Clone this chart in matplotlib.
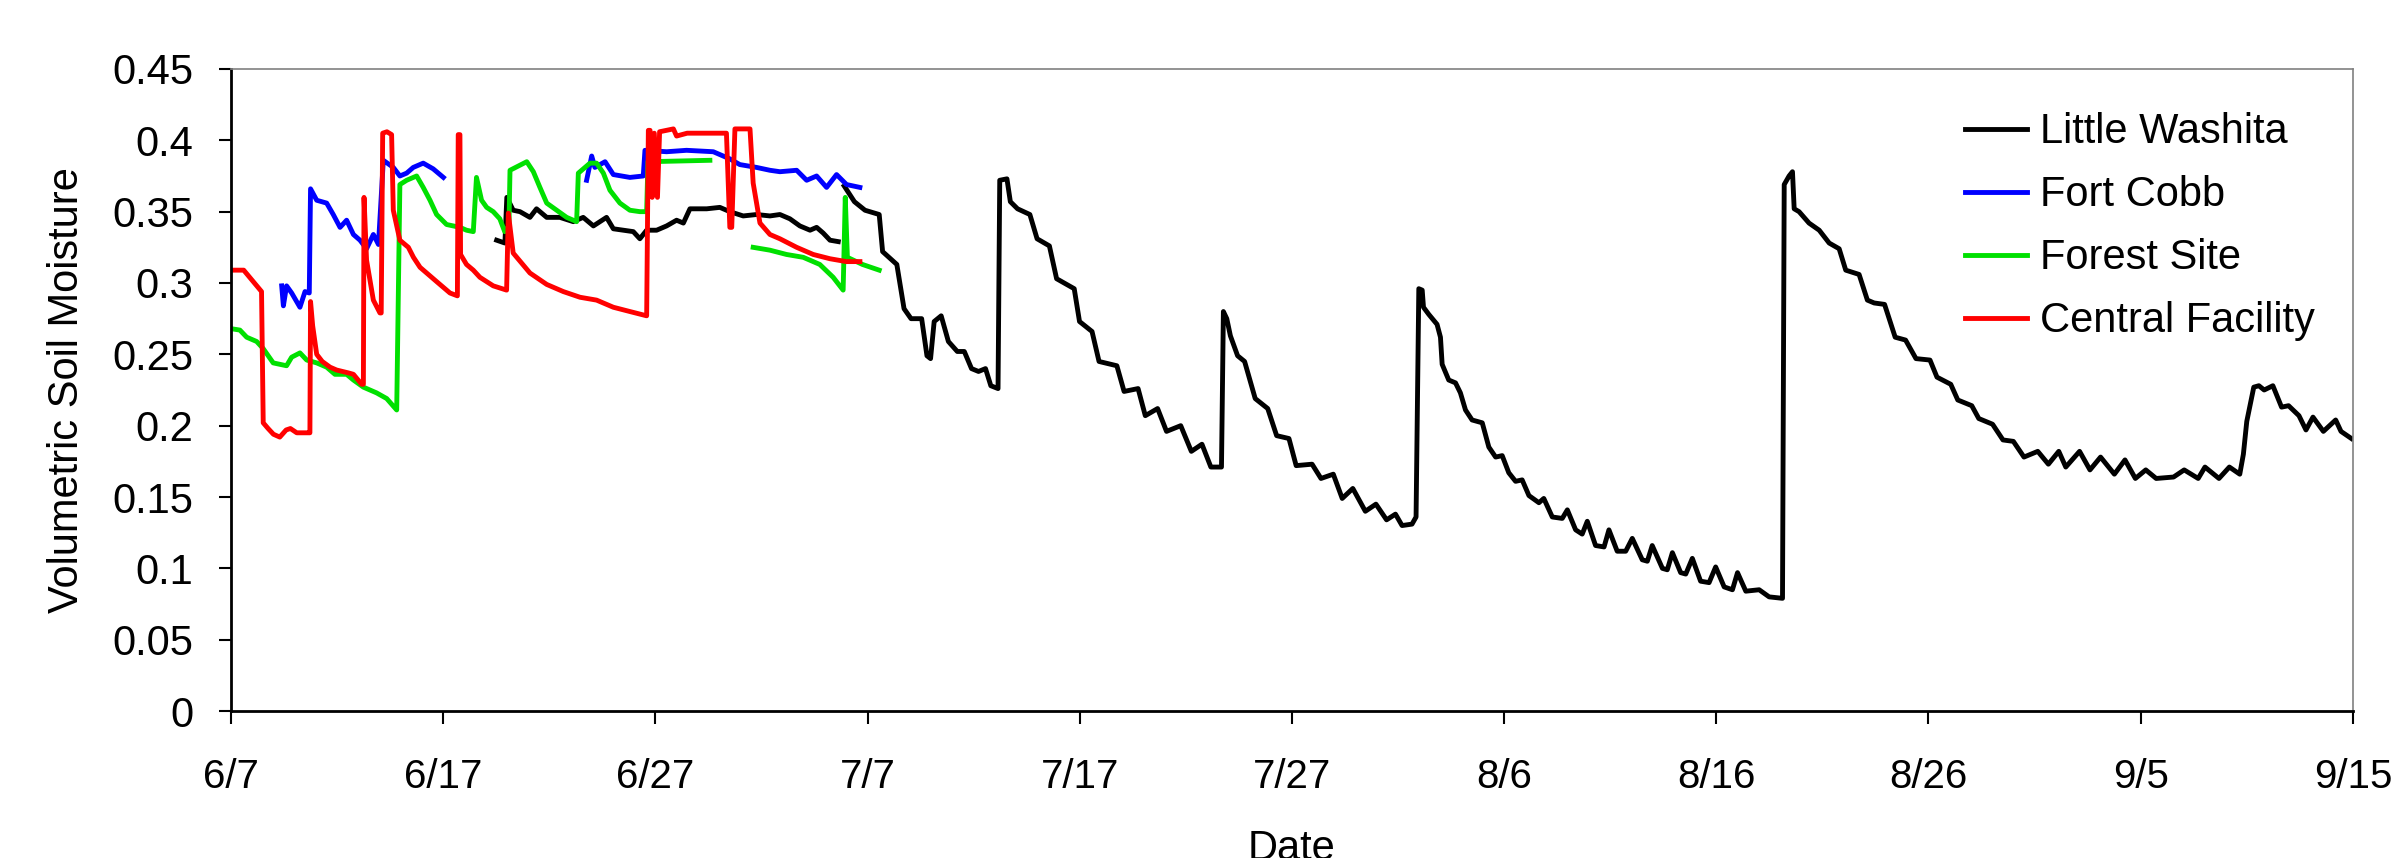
import numpy as np
import matplotlib
matplotlib.use("Agg")
import matplotlib.pyplot as plt

plt.rcParams['font.family'] = ['Liberation Sans', 'DejaVu Sans']

# days after 6/7, volumetric soil moisture (None = gap in record)
lw_days = [12.52, 12.91, 13.0, 13.3, 13.62, 14.09, 14.4, 14.88, 15.5, 16.13, 16.6, 17.08, 17.7, 18.02,
           18.49, 18.96, 19.27, 19.59, 20.06, 20.53, 21.0, 21.32, 21.63, 22.42, 23.04, 23.51, 24.14,
           24.77, 25.4, 25.87, 26.34, 26.81, 27.29, 27.6, 27.91, 28.23, 28.62, 28.75,
           28.9, 29.38, 29.88, 30.55, 30.71, 31.38, 31.72, 32.05, 32.55, 32.8, 32.97, 33.14, 33.47,
           33.81, 34.23, 34.56, 34.9, 35.23, 35.56, 35.81, 36.15, 36.23, 36.57, 36.73, 37.07, 37.65,
           37.99, 38.57, 38.91, 39.74, 39.99, 40.58, 40.91, 41.75, 42.09, 42.75, 43.09, 43.67, 44.09,
           44.76, 45.26, 45.76, 46.18, 46.68, 46.77, 46.93, 47.1, 47.44, 47.77, 48.27, 48.86, 49.28,
           49.86, 50.2, 50.95, 51.37, 51.95, 52.37, 52.87, 53.46, 53.96, 54.46, 54.88, 55.19, 55.66,
           55.85, 55.98, 56.14, 56.2, 56.45, 56.84, 57.0, 57.08, 57.39, 57.71, 57.94, 58.18, 58.49,
           58.97, 59.28, 59.6, 59.91, 60.22, 60.54, 60.85, 61.17, 61.64, 61.87, 62.27, 62.74, 62.98,
           63.37, 63.68, 63.92, 64.31, 64.71, 64.94, 65.33, 65.73, 66.04, 66.51, 66.75, 66.98, 67.46,
           67.69, 67.93, 68.32, 68.56, 68.87, 69.26, 69.66, 69.97, 70.37, 70.76, 71.0, 71.39, 72.02,
           72.49, 73.12, 73.2, 73.43, 73.59, 73.67, 73.9, 74.37, 74.85, 75.32, 75.79, 76.1, 76.73,
           77.12, 77.44, 77.93, 78.43, 78.92, 79.41, 80.07, 80.4, 81.05, 81.38, 82.04, 82.37, 83.02,
           83.51, 84.0, 84.5, 85.15, 85.65, 86.14, 86.47, 87.12, 87.61, 88.11, 88.76, 89.26, 89.75,
           90.24, 90.73, 91.55, 92.05, 92.71, 93.03, 93.69, 94.18, 94.67, 94.84, 95.0, 95.33, 95.57,
           95.82, 96.23, 96.64, 96.97, 97.46, 97.79, 98.12, 98.61, 99.19, 99.44, 99.93]
lw_vals = [0.330, 0.328, 0.360, 0.351, 0.350, 0.346, 0.352, 0.346, 0.346, 0.343, 0.346, 0.340, 0.346, 0.338,
           0.337, 0.336, 0.331, 0.337, 0.337, 0.340, 0.344, 0.342, 0.352, 0.352, 0.353, 0.350, 0.347,
           0.348, 0.347, 0.348, 0.345, 0.340, 0.337, 0.339, 0.335, 0.330, 0.329, None,
           0.368, 0.357, 0.351, 0.348, 0.322, 0.313, 0.282, 0.275, 0.275, 0.249, 0.247, 0.273, 0.277,
           0.259, 0.252, 0.252, 0.240, 0.238, 0.240, 0.228, 0.226, 0.372, 0.373, 0.357, 0.352, 0.348,
           0.331, 0.326, 0.303, 0.296, 0.273, 0.266, 0.245, 0.242, 0.224, 0.226, 0.207, 0.212, 0.196,
           0.200, 0.182, 0.187, 0.171, 0.171, 0.280, 0.275, 0.263, 0.249, 0.245, 0.219, 0.212, 0.193,
           0.191, 0.172, 0.173, 0.163, 0.166, 0.149, 0.156, 0.140, 0.145, 0.134, 0.138, 0.130, 0.131,
           0.136, 0.296, 0.295, 0.283, 0.278, 0.271, 0.262, 0.243, 0.232, 0.230, 0.223, 0.211, 0.204,
           0.202, 0.185, 0.178, 0.179, 0.167, 0.161, 0.162, 0.151, 0.146, 0.149, 0.136, 0.135, 0.141,
           0.127, 0.124, 0.133, 0.116, 0.115, 0.127, 0.112, 0.112, 0.121, 0.106, 0.105, 0.116, 0.100,
           0.099, 0.111, 0.097, 0.096, 0.107, 0.091, 0.090, 0.101, 0.087, 0.085, 0.097, 0.084, 0.085,
           0.080, 0.079, 0.369, 0.375, 0.378, 0.352, 0.350, 0.342, 0.337, 0.328, 0.324, 0.309, 0.306,
           0.288, 0.286, 0.285, 0.262, 0.260, 0.247, 0.246, 0.234, 0.229, 0.218, 0.214, 0.205, 0.201,
           0.190, 0.189, 0.178, 0.182, 0.173, 0.182, 0.171, 0.182, 0.169, 0.178, 0.166, 0.176, 0.163,
           0.169, 0.163, 0.164, 0.169, 0.163, 0.171, 0.163, 0.171, 0.166, 0.180, 0.203, 0.227, 0.228,
           0.225, 0.228, 0.213, 0.214, 0.207, 0.197, 0.206, 0.196, 0.204, 0.196, 0.191]

fc_days = [2.39, 2.47, 2.62, 2.86, 3.25, 3.49, 3.69, 3.75, 4.04, 4.51, 4.82, 5.14, 5.45, 5.77, 6.08,
           6.39, 6.71, 6.95, 7.18, 7.65, 7.96, 8.28, 8.59, 9.06, 9.53, 10.01, 13.0,
           16.76, 17.0, 17.15, 17.63, 18.02, 18.8, 19.43, 19.51, 20.53, 21.47, 22.73, 23.51, 23.98,
           24.77, 25.4, 25.87, 26.66, 27.13, 27.6, 28.07, 28.54, 29.01, 29.64]
fc_vals = [0.298, 0.284, 0.298, 0.293, 0.283, 0.294, 0.293, 0.366, 0.358, 0.356, 0.348, 0.339, 0.344, 0.334, 0.330,
           0.324, 0.334, 0.327, 0.386, 0.381, 0.375, 0.377, 0.381, 0.384, 0.380, 0.374, None,
           0.372, 0.389, 0.381, 0.385, 0.376, 0.374, 0.375, 0.393, 0.392, 0.393, 0.392, 0.387, 0.383,
           0.381, 0.379, 0.378, 0.379, 0.372, 0.375, 0.367, 0.376, 0.369, 0.367]

fs_days = [0.0, 0.42, 0.74, 1.21, 1.52, 1.99, 2.62, 2.86, 3.25, 3.57, 4.04, 4.51, 4.9, 5.45, 5.77,
           6.24, 6.86, 7.34, 7.81, 7.96, 8.28, 8.75, 9.06, 9.38, 9.69, 10.16, 10.79, 11.1, 11.42,
           11.57, 11.81, 12.05, 12.36, 12.67, 12.9, 13.1, 13.15, 13.94, 14.25, 14.56, 14.88, 15.35,
           15.82, 16.29, 16.37, 16.92, 17.23, 17.55, 17.86, 18.33, 18.8, 19.27, 19.59, 19.65, 22.57,
           23.5,
           24.61, 25.4, 26.18, 26.97, 27.75, 28.38, 28.85, 28.95, 29.05, 29.76, 30.55]
fs_vals = [0.268, 0.267, 0.262, 0.259, 0.254, 0.244, 0.242, 0.248, 0.251, 0.246, 0.244, 0.241, 0.236, 0.236, 0.232,
           0.227, 0.223, 0.219, 0.211, 0.369, 0.372, 0.375, 0.367, 0.358, 0.348, 0.341, 0.339, 0.337, 0.336,
           0.374, 0.358, 0.353, 0.350, 0.345, 0.336, 0.340, 0.379, 0.385, 0.378, 0.367, 0.356, 0.351,
           0.346, 0.343, 0.377, 0.384, 0.384, 0.377, 0.365, 0.356, 0.351, 0.350, 0.350, 0.385, 0.386,
           None,
           0.325, 0.323, 0.320, 0.318, 0.313, 0.304, 0.295, 0.360, 0.318, 0.313, 0.309]

cf_days = [0.0, 0.6, 1.44, 1.52, 1.75, 2.0, 2.3, 2.6, 2.8, 3.1, 3.64, 3.72, 3.75, 3.85, 4.04, 4.3, 4.67,
           4.98, 5.53, 5.77, 6.16, 6.24, 6.27, 6.39, 6.71, 7.02, 7.08, 7.15, 7.35, 7.57, 7.65, 7.96,
           8.36, 8.6, 8.91, 9.3, 9.69, 10.32, 10.67, 10.71, 10.79, 10.82, 11.1, 11.42, 11.73, 12.36,
           12.99, 13.07, 13.3, 14.09, 14.88, 15.66, 16.45, 17.23, 18.02, 18.8, 19.59, 19.67, 19.75,
           19.85, 19.95, 20.1, 20.2, 20.85, 21.0, 21.5, 23.35, 23.51, 23.6, 23.75, 24.46, 24.61, 24.93,
           25.4, 25.87, 26.66, 27.44, 28.23, 29.0, 29.64]
cf_vals = [0.309, 0.309, 0.294, 0.202, 0.198, 0.194, 0.192, 0.197, 0.198, 0.195, 0.195, 0.195, 0.287, 0.270, 0.250, 0.245, 0.241,
           0.239, 0.237, 0.236, 0.229, 0.229, 0.360, 0.316, 0.288, 0.279, 0.279, 0.405, 0.406, 0.404, 0.351, 0.330,
           0.325, 0.318, 0.311, 0.306, 0.301, 0.293, 0.291, 0.404, 0.404, 0.320, 0.313, 0.309, 0.304, 0.298,
           0.295, 0.349, 0.321, 0.307, 0.299, 0.294, 0.290, 0.288, 0.283, 0.280, 0.277, 0.407, 0.407,
           0.360, 0.405, 0.360, 0.406, 0.408, 0.403, 0.405, 0.405, 0.339, 0.339, 0.408, 0.408, 0.370, 0.342,
           0.334, 0.331, 0.325, 0.320, 0.317, 0.315, 0.315]

tick_days = [0, 10, 20, 30, 40, 50, 60, 70, 80, 90, 100]
tick_dates = ['6/7', '6/17', '6/27', '7/7', '7/17', '7/27', '8/6', '8/16', '8/26', '9/5', '9/15']
y_ticks = [0, 0.05, 0.1, 0.15, 0.2, 0.25, 0.3, 0.35, 0.4, 0.45]
y_tick_labels = ['0', '0.05', '0.1', '0.15', '0.2', '0.25', '0.3', '0.35', '0.4', '0.45']

fig = plt.figure(figsize=(23.96, 8.58), dpi=100)
ax = fig.add_axes([0.0964, 0.1713, 0.8856, 0.7483])

lw = 3.5
ax.plot(lw_days, np.array(lw_vals, dtype=float), color='black', lw=lw, label='Little Washita')
ax.plot(fc_days, np.array(fc_vals, dtype=float), color='#0000ff', lw=lw, label='Fort Cobb')
ax.plot(fs_days, np.array(fs_vals, dtype=float), color='#00e000', lw=lw, label='Forest Site')
ax.plot(cf_days, np.array(cf_vals, dtype=float), color='#ff0000', lw=lw, label='Central Facility')

ax.set_xlim(0, 100)
ax.set_ylim(0, 0.45)
ax.set_xticks(tick_days)
ax.set_xticklabels(tick_dates)
ax.set_yticks(y_ticks)
ax.set_yticklabels(y_tick_labels)

ax.tick_params(axis='both', direction='out', length=9, width=1.5, colors='black')
ax.tick_params(axis='x', pad=25, labelsize=29)
ax.tick_params(axis='y', pad=18, labelsize=30)

for side in ['left', 'bottom']:
    ax.spines[side].set_linewidth(2)
    ax.spines[side].set_color('black')
for side in ['top', 'right']:
    ax.spines[side].set_linewidth(1.2)
    ax.spines[side].set_color('#808080')

ax.set_ylabel('Volumetric Soil Moisture', fontsize=30)
ax.yaxis.set_label_coords(-0.068, 0.5)
# the reference crops the bottom of this label at the image edge
ax.set_xlabel('Date', fontsize=30)
ax.xaxis.set_label_coords(0.5, -0.183)

leg = fig.legend(loc='upper left', bbox_to_anchor=(0.820, 0.869), frameon=False,
                 fontsize=30, handlelength=1.5, handletextpad=0.3, labelspacing=0.55,
                 borderpad=0, borderaxespad=0)
for line in leg.get_lines():
    line.set_linewidth(3.5)

fig.savefig('out.png', dpi=100)
